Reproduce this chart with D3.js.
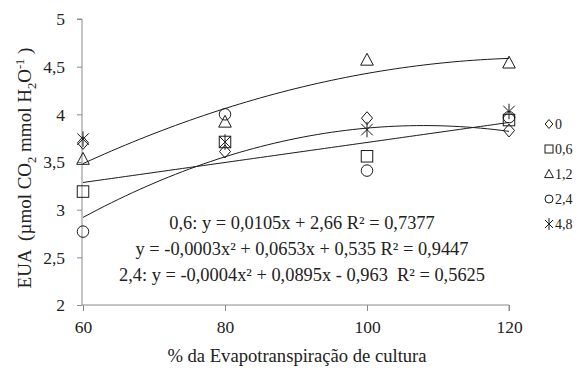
<!DOCTYPE html>
<html>
<head>
<meta charset="utf-8">
<script src="https://cdn.jsdelivr.net/npm/d3@7"></script>
<style>
  html, body { margin: 0; padding: 0; background: #fff; }
  svg { display: block; }
  text { font-family: "Liberation Serif", "Times New Roman", serif; fill: #222; }
</style>
</head>
<body>
<svg id="chart" width="584" height="370"></svg>
<script>
// Irrigation levels (% of crop evapotranspiration)
const etLevels = [60, 80, 100, 120];
// Water use efficiency per treatment
const seriesNames = ["0", "0,6", "1,2", "2,4", "4,8"];
const wue0  = [3.70, 3.61, 3.96, 3.83];
const wue06 = [3.19, 3.71, 3.56, 3.94];
const wue12 = [3.53, 3.92, 4.57, 4.54];
const wue24 = [2.77, 4.00, 3.41, 3.97];
const wue48 = [3.74, 3.71, 3.84, 4.03];
const seriesValues = [wue0, wue06, wue12, wue24, wue48];
const seriesSymbols = ["diamond", "square", "triangle", "circle", "asterisk"];
// Trendlines: series index and polynomial degree
const trendSeries = [1, 2, 3];
const trendDegree = [1, 2, 2];
const yTicks = [2, 2.5, 3, 3.5, 4, 4.5, 5];
const yTickLabels = ["2", "2,5", "3", "3,5", "4", "4,5", "5"];
const xTicks = [60, 80, 100, 120];
const equationLines = [
  "0,6: y = 0,0105x + 2,66 R² = 0,7377",
  "y = -0,0003x² + 0,0653x + 0,535 R² = 0,9447",
  "2,4: y = -0,0004x² + 0,0895x - 0,963  R² = 0,5625"
];

const svg = d3.select("#chart");
const x = d3.scaleLinear().domain([60, 120]).range([83, 509]);
const y = d3.scaleLinear().domain([2, 5]).range([305, 19]);
const axisColor = "#8a8a8a";
const tickFont = "17.5px";

// Y axis
const yAxis = svg.append("g").attr("transform", `translate(${x(60) - 1},0)`)
  .call(d3.axisLeft(y).tickValues(yTicks).tickSize(5).tickPadding(12)
    .tickFormat((d, i) => yTickLabels[i]));
yAxis.select(".domain").attr("stroke", axisColor).attr("d", `M-5,${y(5)}H0V${y(2)}`);
yAxis.selectAll(".tick line").attr("stroke", axisColor);
yAxis.selectAll(".tick text").style("font-size", tickFont)
  .style("font-family", "Liberation Serif").attr("fill", "#222").attr("dy", "0.34em");

// X axis
const xAxis = svg.append("g").attr("transform", `translate(0,${y(2)})`)
  .call(d3.axisBottom(x).tickValues(xTicks).tickSize(6).tickPadding(10));
xAxis.select(".domain").attr("stroke", axisColor).attr("d", `M${x(60) - 1},0H${x(120)}V6`);
xAxis.selectAll(".tick line").attr("stroke", axisColor);
xAxis.selectAll(".tick text").style("font-size", tickFont)
  .style("font-family", "Liberation Serif").attr("fill", "#222");

// Axis titles
svg.append("text")
  .attr("x", 297).attr("y", 362)
  .attr("text-anchor", "middle").style("font-size", "18.6px")
  .text("% da Evapotranspiração de cultura");

const yTitle = svg.append("text")
  .attr("transform", "translate(31,168) rotate(-90)")
  .attr("text-anchor", "middle").style("font-size", "19px");
yTitle.append("tspan").style("white-space", "pre").text("EUA  (µmol CO");
yTitle.append("tspan").attr("dy", 5).style("font-size", "12.5px").text("2");
yTitle.append("tspan").attr("dy", -5).text(" mmol H");
yTitle.append("tspan").attr("dy", 5).style("font-size", "12.5px").text("2");
yTitle.append("tspan").attr("dy", -5).text("O");
yTitle.append("tspan").attr("dy", -7).style("font-size", "12.5px").text("-1");
yTitle.append("tspan").attr("dy", 7).style("white-space", "pre").text(" )");

// Least-squares polynomial fit
function polyFit(xs, ys, deg) {
  const n = deg + 1;
  const A = Array.from({length: n}, () => new Array(n + 1).fill(0));
  for (let k = 0; k < xs.length; k++) {
    for (let i = 0; i < n; i++) {
      for (let j = 0; j < n; j++) A[i][j] += Math.pow(xs[k], i + j);
      A[i][n] += ys[k] * Math.pow(xs[k], i);
    }
  }
  for (let i = 0; i < n; i++) {
    let p = i;
    for (let r = i + 1; r < n; r++) if (Math.abs(A[r][i]) > Math.abs(A[p][i])) p = r;
    [A[i], A[p]] = [A[p], A[i]];
    for (let r = 0; r < n; r++) {
      if (r === i) continue;
      const f = A[r][i] / A[i][i];
      for (let c = i; c <= n; c++) A[r][c] -= f * A[i][c];
    }
  }
  return A.map((row, i) => row[n] / row[i]);
}

const line = d3.line().x(d => x(d[0])).y(d => y(d[1]));
trendSeries.forEach((si, k) => {
  const coef = polyFit(etLevels, seriesValues[si], trendDegree[k]);
  const pts = d3.range(60, 120.01, 1).map(v => [v, coef.reduce((s, c, i) => s + c * Math.pow(v, i), 0)]);
  svg.append("path").attr("d", line(pts)).attr("fill", "none")
    .attr("stroke", "#1a1a1a").attr("stroke-width", 1);
});

// Marker shapes
function drawSymbol(g, type, cx, cy, s) {
  let el;
  if (type === "diamond") {
    el = g.append("path").attr("d", `M${cx},${cy - s * 0.56}L${cx + s * 0.48},${cy}L${cx},${cy + s * 0.56}L${cx - s * 0.48},${cy}Z`);
  } else if (type === "square") {
    el = g.append("rect").attr("x", cx - s / 2).attr("y", cy - s / 2).attr("width", s).attr("height", s);
  } else if (type === "triangle") {
    el = g.append("path").attr("d", `M${cx},${cy - s * 0.58}L${cx + s * 0.55},${cy + s * 0.45}L${cx - s * 0.55},${cy + s * 0.45}Z`);
  } else if (type === "circle") {
    el = g.append("circle").attr("cx", cx).attr("cy", cy).attr("r", s / 2);
  } else {
    const h = s / 2;
    el = g.append("path").attr("d",
      `M${cx - h},${cy - h}L${cx + h},${cy + h}M${cx + h},${cy - h}L${cx - h},${cy + h}M${cx},${cy - h - 2}L${cx},${cy + h + 2}`);
  }
  el.attr("fill", "none").attr("stroke", "#1a1a1a").attr("stroke-width", 1);
}

const marks = svg.append("g");
seriesValues.forEach((vals, si) => {
  vals.forEach((v, i) => drawSymbol(marks, seriesSymbols[si], x(etLevels[i]), y(v), 11.5));
});

// Legend
const legend = svg.append("g");
seriesNames.forEach((name, i) => {
  const ly = 124 + i * 25;
  drawSymbol(legend, seriesSymbols[i], 549, ly, 8);
  legend.append("text").attr("x", 555).attr("y", ly + 5)
    .style("font-size", "14px").text(name);
});

// Trendline equations
equationLines.forEach((t, i) => {
  svg.append("text").attr("x", 302).attr("y", 229 + i * 26)
    .attr("text-anchor", "middle").style("font-size", "18.4px")
    .style("white-space", "pre").text(t);
});
</script>
</body>
</html>
